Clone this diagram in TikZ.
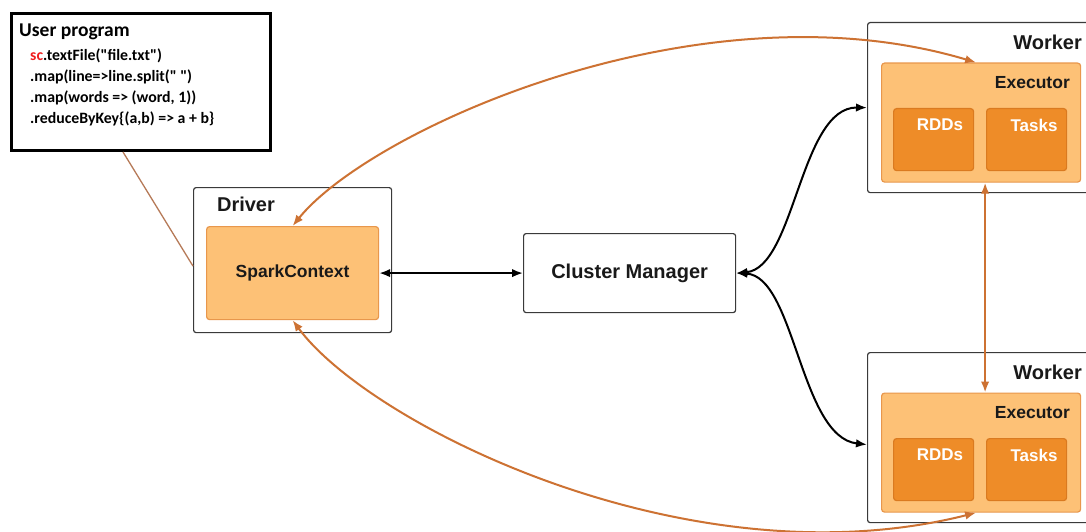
\documentclass[tikz,border=0pt]{standalone}
\usepackage{fontspec}
\setmainfont{Liberation Sans}
\newfontfamily\codefont{Carlito}
\usetikzlibrary{arrows.meta}
\definecolor{boxline}{HTML}{3A3A3A}
\definecolor{paleorange}{HTML}{FDC176}
\definecolor{paleedge}{HTML}{E8974C}
\definecolor{deeporange}{HTML}{EE8C28}
\definecolor{deepedge}{HTML}{DA7A20}
\definecolor{linkorange}{HTML}{CD7233}
\definecolor{notebrown}{HTML}{B67A58}
\definecolor{codered}{HTML}{F01E1E}
\tikzset{
  frame/.style={draw=boxline, line width=1.2pt, rounded corners=2.5pt, fill=white, anchor=north west, inner sep=0pt},
  execbox/.style={draw=paleedge, line width=1.2pt, rounded corners=3pt, fill=paleorange, anchor=north west, inner sep=0pt},
  partbox/.style={draw=deepedge, line width=1.2pt, rounded corners=3pt, fill=deeporange, anchor=north west, inner sep=0pt},
  biglabel/.style={font=\bfseries\fontsize{20}{22}\selectfont, text=black!90, inner sep=0pt},
  midlabel/.style={font=\bfseries\fontsize{17.5}{20}\selectfont, text=black!90, inner sep=0pt},
  partlabel/.style={font=\bfseries\fontsize{17}{20}\selectfont, text=white, inner sep=0pt},
  blacklink/.style={draw=black, line width=2pt, {Latex[length=11pt,width=8.5pt]}-{Latex[length=11pt,width=8.5pt]}},
  orangelink/.style={draw=linkorange, line width=2pt, {Latex[length=11pt,width=8.5pt]}-{Latex[length=11pt,width=8.5pt]}},
}
\begin{document}
\begin{tikzpicture}[x=1pt,y=-1pt]
\useasboundingbox (0,0) rectangle (1086,532);
\clip (0,0) rectangle (1086,532);
\fill[white] (0,0) rectangle (1086,532);

% user program note
\node[draw=black, line width=3pt, anchor=north west, minimum width=259pt, minimum height=137pt, inner sep=0pt] (prog) at (10,12) {};
\node[anchor=west, inner sep=0pt, font=\codefont\bfseries\fontsize{19.5}{22}\selectfont] (progtitle) at (19,32) {User program};
\node[anchor=north west, inner sep=0pt, align=left, font=\codefont\bfseries\fontsize{15.8}{21}\selectfont] (code) at (30,49)
  {\textcolor{codered}{sc}.textFile("file.txt")\\
   .map(line=>line.split(" ")\\
   .map(words => (word, 1))\\
   .reduceByKey\{(a,b) => a + b\}};

% driver
\node[frame, minimum width=198pt, minimum height=145pt] (driver) at (193,187) {};
\node[biglabel] (drivertitle) at (246,204) {Driver};
\node[execbox, minimum width=172pt, minimum height=93pt] (sc) at (206,226) {};
\node[midlabel] (sctext) at (sc.center) {SparkContext};

% cluster manager
\node[frame, minimum width=212pt, minimum height=79pt] (cm) at (523,233) {};
\node[biglabel] (cmtext) at (cm.center) {Cluster Manager};

% workers
\foreach \n/\y in {1/22, 2/352} {
  \node[frame, minimum width=228pt, minimum height=170pt] (w\n) at (867,\y) {};
  \node[biglabel, anchor=east] (wt\n) at (1082,\y+20) {Worker};
  \node[execbox, minimum width=199pt, minimum height=119pt] (e\n) at (881,\y+40.5) {};
  \node[midlabel, anchor=east] (et\n) at (1070,\y+61) {Executor};
  \node[partbox, minimum width=80pt, minimum height=62pt] (r\n) at (893,\y+86) {};
  \node[partbox, minimum width=80pt, minimum height=62pt] (t\n) at (986,\y+86) {};
  \node[partlabel] (rt\n) at (940,\y+103) {RDDs};
  \node[partlabel] (tt\n) at (1034,\y+103) {Tasks};
}

% connectors
\draw[notebrown, line width=1.3pt] ([xshift=-18pt]prog.south) -- ([yshift=-6pt]driver.west);
\draw[blacklink] (sc.east) -- (cm.west);
\draw[blacklink] (cm.east) .. controls (795,268) and (800,107) .. (w1.west);
\draw[blacklink] (cm.east) .. controls (795,276) and (800,437) .. ([yshift=-7pt]w2.west);
\draw[orangelink] (sc.north) .. controls (370,130) and (700,-20) .. ([xshift=-5pt]e1.north);
\draw[orangelink] (sc.south) .. controls (370,425) and (690,585) .. ([xshift=-5pt]e2.south);
\draw[orangelink] ([xshift=4pt]e1.south) -- ([xshift=4pt]e2.north);
\end{tikzpicture}
\end{document}
